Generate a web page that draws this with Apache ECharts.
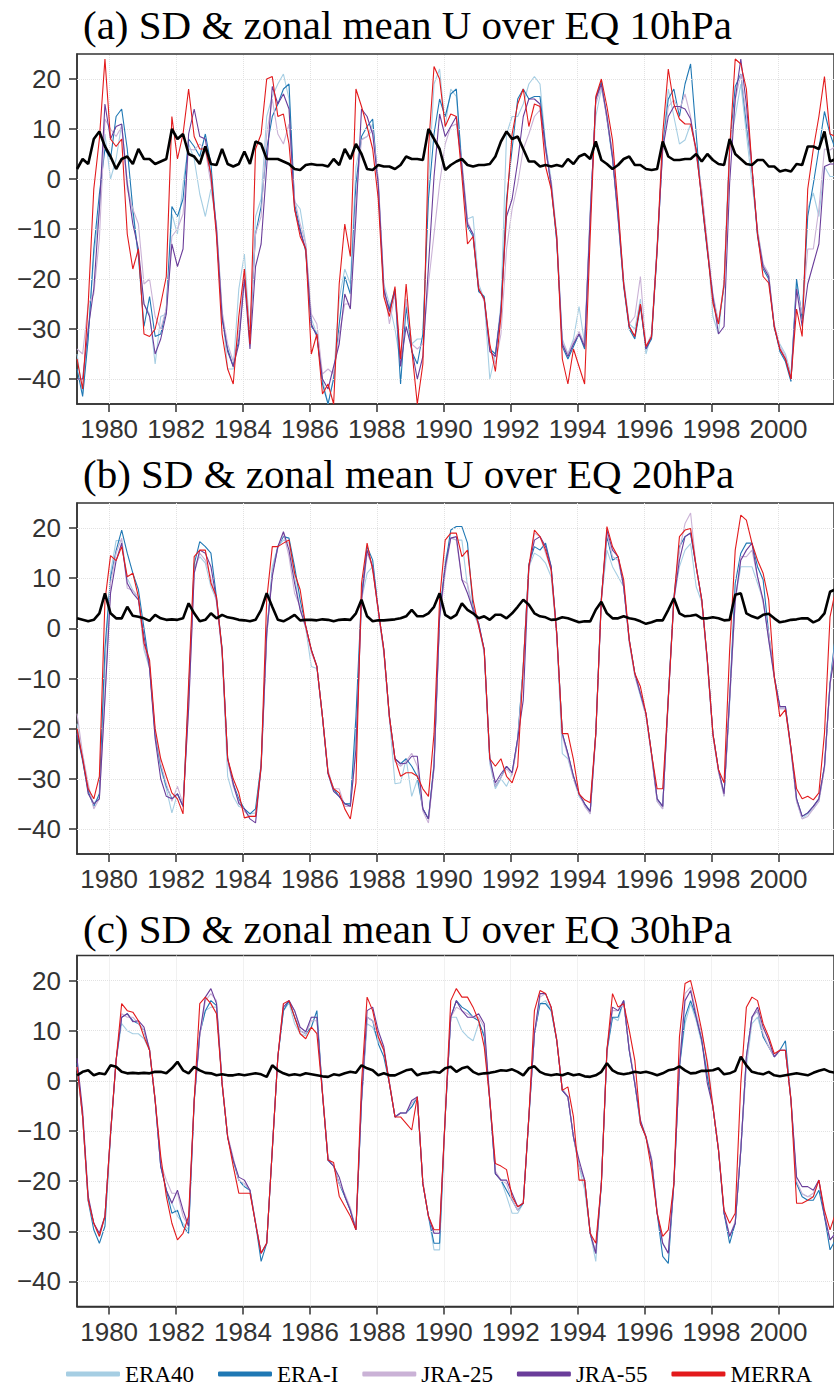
<!DOCTYPE html>
<html>
<head>
<meta charset="utf-8">
<script src="https://cdn.jsdelivr.net/npm/echarts@6/dist/echarts.min.js"></script>
<style>
html,body{margin:0;padding:0;background:#ffffff;}
#chart{width:834px;height:1392px;}
</style>
</head>
<body>
<div id="chart"></div>
<script>
// ---- categories / ticks ----
const yearStart = 1979 + 0.5 / 12;   // mid-January 1979
const stepYears = 2 / 12;            // one sample every two months
const xTicks = [1980, 1982, 1984, 1986, 1988, 1990, 1992, 1994, 1996, 1998, 2000];
const yTicks = [-40, -30, -20, -10, 0, 10, 20];
const seriesNames = ['ERA40', 'ERA-I', 'JRA-25', 'JRA-55', 'MERRA'];
const seriesColors = ['#a6cee3', '#1f78b4', '#cab2d6', '#6a3d9a', '#e31a1c'];
const panelTitles = [
  '(a) SD & zonal mean U over EQ 10hPa',
  '(b) SD & zonal mean U over EQ 20hPa',
  '(c) SD & zonal mean U over EQ 30hPa'
];

// ---- 10 hPa ----
const era40_10 = [-35,-43,-31,-15.5,-6,9,0,4,11,-0.5, -7,-15.5,-25,-27,-37,-27.5,-27,-7,-11,-1, 7,4,-3,-7.5,-2,-9,-26,-38,-38,-22, -15,-31,-7.5,-4,12.5,16.5,19,21,16,-4.5, -6,-13,-28,-31,-40,-45,-39.5,-24,-18,-21, 2.5,8,8.5,11,-0.5,-21,-25,-30,-37,-24, -33,-32,-32,-1,19,22,10.5,18,16.5,3.5, -8,-7.5,-21,-24,-40,-35,-25,9,12.5,12.5, 15,19,20.5,19,7,0,-11,-32,-35,-32, -25.5,-33,-6,12.5,18,13,5,-6.5,-20,-29, -30,-24,-35,-31,-13,7,18,12.5,7,7.8, 11,5.8,-3,-13,-27.5,-31,-20,7,12.5,19, 9,-0.8,-10,-17,-19,-30,-33,-35,-39,-21, -27,-6,-2.8,-7.5,2.5,0.5,0.5];
const erai_10 = [-38,-43.5,-32,-14,-3,6,4,12.5,14,6, -6,-15.5,-29.5,-23.5,-31.5,-31,-26,-5.5,-7.5,-4, 8,6.5,4.5,9,3,-10.5,-28,-34,-37.5,-32, -19.5,-31,-11,-5.5,6,12.5,15,18,19,-5, -10,-14.5,-29.5,-31,-41,-45,-40,-29,-19.5,-23, -1,8.5,10.5,12,-1.5,-22.5,-26,-22,-41,-25.5, -34.5,-37,-31,-4,9,16,12.5,17,18,2, -9.5,-11.5,-22.5,-23.5,-34,-35,-26.5,-4,6,16, 18,16,16.5,16.5,6.5,-1.5,-12.5,-33.5,-36,-33.5, -31,-34,-8,16,19.5,12,4,-8,-21.5,-30, -32,-25.5,-34,-32,-14.5,6.5,16,18,12.5,19, 23,9,-4.5,-14.5,-23.5,-29,-21.5,6,18.5,21, 11,2,-11.5,-18,-20,-29.5,-34.5,-36.5,-40.5,-20, -28,-7.5,-1,6,13.5,9,5.8];
const jra25_10 = [-34,-35,-25,-23,-12,12,10,8.5,10.5,-2, -6,-9,-21,-20,-27.5,-30,-26,-11.5,-10,-7, 6,5.8,7,5.8,-1,-9.5,-26.5,-33,-36.5,-31, -19,-30,-11,-7.5,9,16,9,7,11,-4, -9,-13,-27,-29,-39,-38,-39,-31,-25,-25, -4,7.8,8.5,9.8,0,-21,-29,-23,-36.5,-24, -33,-34,-33,-21,-11,-1,7,10.5,11,3, -8.5,-11,-21.5,-24.5,-33.5,-37,-31,-14,-6,-1, 6,9,12.5,13.8,5.5,-0.5,-11.5,-32.5,-35,-32.5, -30.5,-33,-7,15,18.5,12,5,-7,-20.5,-29, -27.5,-19.5,-33.5,-31,-13.5,5.5,14.5,15.8,13.8,17, 12.5,4.5,-2,-12.8,-23,-28.5,-21,5.5,15.8,21, 12.5,2,-10.5,-17,-19,-29,-33.5,-35.5,-39.5,-22, -27,-14,-14,-6,6,5.8,6.5];
const jra55_10 = [-40,-40,-30,-22,-6,15,8,10.5,11,-1, -9,-14,-25,-27.5,-35,-32,-27,-13,-17.5,-14, 9,14,8.5,8,0.5,-10,-27.5,-34.5,-37.5,-33, -20,-34,-17.5,-13,2.5,18.5,15,17,14,-6, -10.5,-14,-29,-31.5,-40,-42,-37.5,-33,-23,-26, -7.5,14,12.5,9,-1,-22,-26.5,-22.5,-37.5,-29.5, -34,-40,-35.5,-17.5,0.5,13,8.5,10.5,12.5,2.5, -9,-11,-22,-24,-34.5,-35.5,-26,-7.5,-4,3.5, 12.5,16,16,15,6,-1,-12,-33,-35.5,-33, -31,-33.5,-7.5,16,19,12.5,4.5,-7.5,-21,-29.5, -31.5,-25,-34,-31.5,-14,6,12.5,14.5,14.5,14, 12,5.8,-4,-14,-23.5,-31,-29.5,-0.8,16,24, 15,2.5,-11,-17.5,-19.5,-29.5,-34,-36,-40,-22, -29.5,-21,-17,-13,2.5,3,3];
const merra_10 = [-36,-42,-25,-2,8,24,8,6.5,8,-11, -18,-14,-31,-31.5,-30,-25,-19.5,12.5,4,9, 18,8.5,6,6,1,-11.5,-31,-38,-41,-27.5, -18,-33,6,9,20,20.5,12.5,13,7,-6, -11.5,-14,-35,-31,-43,-41,-45,-21,-9,-15.5, 18,14.5,10.5,6,-4,-23.5,-27.5,-21.5,-36,-21, -34,-45,-37,6,22.5,20,10.5,13,12.5,0.5, -13,-11.5,-22,-24,-33,-38.5,-27.5,-5.5,9,15, 18,10.5,15,14.5,2.5,-2,-11.5,-36,-41,-34, -37.5,-41,-11.5,16.5,20,14.5,7.8,-5.5,-21,-29.5, -31.5,-25,-33.5,-31.5,-14,9,22,15,12,11, 11,5.8,-4,-14,-24.8,-29,-21,6,24,23, 18,2.5,-11,-19.5,-20.8,-29.5,-34,-36,-40,-26, -31.5,-2,6,12.5,20.5,9,8.5];
const sd_10 = [2,4,3,8,9.5,6.5,4.5,2,4,4.5, 3,6,4,4,3,3.5,4,10,8,9, 5,4.5,3,6.5,3,2.8,6,3,2.5,3, 5.5,3,7.5,7,4,4,4,3.5,3,2, 1.8,2.8,3,2.8,2.8,2.5,4,2.8,6,4, 7,5,2,1.8,2.8,2.5,2.5,2,2.8,4.5, 4,4,3.8,10,8,6,1.8,2.8,3.5,4, 2.8,2.5,2.8,2.8,3,4.5,7.5,9.5,8,8.5, 6,3.5,3.5,2.5,2.8,2.5,2.8,2.5,4,3, 4.5,5,4,7.5,3.8,3,2,2.8,4,4.5, 2.8,2.8,2,1.8,2,7.5,4.5,3.8,3.8,4, 4,5,3.5,5,3.8,3,2.8,8,5,4, 3,2.8,3.8,3.8,2.5,2.5,1.5,1.8,1.5,3, 2.8,6.5,6.5,6,9.5,3.5,4];

// ---- 20 hPa ----
const era40_20 = [-19,-26,-32,-35,-33.5,-7.5,11,17.5,17.5,10, 7.6,5.7,-4.3,-8,-21.5,-28,-32,-36.8,-33,-35.5, -14,12.3,14.3,13,8.3,5.7,-5,-29.5,-33.5,-35.5, -36,-37,-36.8,-28,-2,12.3,16.3,17.6,17,10.3, 3.7,0,-7.6,-8,-18,-29,-32.5,-33.5,-35,-35, -21,5.7,11,12.3,3.2,-5,-18,-31,-30.8,-26, -33.5,-30.2,-36,-38,-28,2.3,13.6,18,17.6,17.6, 8.3,3.2,0.5,-5,-27,-32,-30,-31.5,-29,-22.5, -7,12.3,15,14.3,13,10.3,-1.5,-25,-26,-30, -33.5,-35,-37,-21,5.7,15.6,12.3,10.3,8.3,-2.8, -9.5,-13.5,-17.5,-25.5,-34.5,-36,-13,5.7,12.3,15.6, 16.9,8.3,5.2,-7,-21.5,-28.6,-33.5,-15,5.7,12.3, 12.3,12.3,9,5.7,-2.3,-10,-16,-16,-24.5,-34.5, -38,-37,-36,-34.5,-28,-11,-1];
const erai_20 = [-21,-26.5,-32.5,-35.5,-33,-4,10,15.5,19.6,15, 11,7.7,0,-7.6,-21,-27.5,-31.5,-34,-33,-35.5, -13,12.8,17.3,16.3,15,6.2,-4,-26,-31,-34, -36,-37,-36,-27,-0.5,11,16.3,18.3,18,12.3, 5.7,0.4,-4.3,-7.6,-17.6,-28.8,-32,-33.5,-35,-35, -17.6,6.5,16.3,13.6,3.7,-4.3,-17.6,-26,-27,-26, -27.5,-29.5,-36,-38,-27,2.8,12.3,19.6,20.3,20.3, 17,4.2,1,-4.3,-26,-31.5,-29.7,-27.5,-28.8,-22, -7.6,12.8,16.3,15.6,17,12.3,-1,-21,-25,-29.5, -33,-35,-36.5,-21,6.2,18.3,13.6,14.3,8.3,-2.3, -9,-13,-17,-25,-34,-35.5,-14,6.2,16.3,18.3, 19,12.3,5.7,-6.3,-21,-28.2,-33,-14,9,15, 17,17,12.3,9.7,-1,-9.6,-15.6,-15.6,-24,-34, -37.5,-36.8,-35.5,-34,-27.5,-11,-1];
const jra25_20 = [-17,-25,-31,-36,-34,-14,9,15,18,8, 7.6,6.3,-3.6,-7.6,-20.5,-27,-31,-34.5,-31.5,-35, -16,11,15,13.6,10,5.2,-4.8,-26.5,-31.5,-34.5, -36.5,-37.5,-37.5,-28,-1.5,11,16,19,14.3,7, 4.3,0,-4.8,-7.6,-17.6,-28.3,-32,-32,-35.5,-35.5, -24.2,5.2,15,12.3,3.2,-4.8,-18,-26.5,-27.5,-26.5, -24.9,-27.5,-36.5,-38.8,-28,1.8,11,18,17.6,9.7, 8.9,3.7,1,-4.8,-26.5,-31.5,-29.7,-28,-29.3,-22.5, -8.5,11.5,19,18.3,15,11.6,-1.5,-21.5,-25.5,-30, -33,-35.5,-37,-21.5,5.2,19,14.3,13.6,8.3,-2.8, -9.5,-13,-17.5,-25.5,-34.5,-36,-14.5,5.2,15.6,20.9, 23,12.3,5.2,-6.8,-21.5,-28.6,-33.5,-14.5,5.2,14.3, 14.3,15.6,10.3,5,-1,-10,-16,-16,-24.5,-34.5, -38,-37.5,-36,-34.5,-28,-11.5,-2.3];
const jra55_20 = [-21,-26,-33,-35,-34,-14,7,13.5,17,9, 7,5.7,-1.6,-8,-22,-30,-33.5,-34,-33,-35.5, -16,11,15.6,15,12.3,5.7,-4.3,-26,-31,-34.9, -36,-38,-38.8,-27.5,-1,10.3,16.3,19.3,15.6,9, 3.7,0.4,-4.3,-7.6,-17.6,-29,-32.5,-33.5,-35,-35.5, -24.2,5.7,15.6,12.3,3.7,-4.3,-17.6,-26,-27,-26.9, -25.5,-25.5,-36,-38,-27.5,2.3,12.3,18,18.3,9.7, 7,3.7,1,-4.3,-26,-30.8,-29,-27.5,-28.8,-22, -14.3,12.3,17.6,18.3,16.3,12.3,-1,-21,-25,-29.5, -33,-35,-36.5,-21,5.7,19.6,15.6,14.3,8.3,-2.3, -9,-13,-17,-25,-34,-35.5,-14,5.7,13.6,18.3, 19,12.3,5.7,-6.3,-21,-28.2,-33,-14,5.7,13.6, 15.6,17,10.3,5.7,-2.3,-9.6,-15.6,-15.6,-24,-34, -37.5,-36.8,-35.5,-34,-27.5,-11,-4.3];
const merra_20 = [-20,-26,-32,-34,-29.5,5.5,14.5,13.5,16.3,10.3, 11,6.3,-3,-6.3,-20,-26,-29.5,-32.8,-34,-37, -11,14.3,15.6,15.6,9,6.3,-4.3,-26,-30,-32.8, -37.8,-37.5,-37.5,-27.5,5.7,16.3,16.3,17,17.6,11, 7.7,0.4,-4.3,-7.6,-17.6,-28.8,-32,-32.8,-36,-38, -30.8,9,17,11.6,3.7,-4.3,-17.6,-26,-29.5,-28.8, -28.8,-29.5,-32,-33.5,-21,5.7,17.6,19,19,14.3, 15.6,5.7,0.4,-4.3,-26,-27.5,-26,-29.5,-30.8,-27.5, -7.6,12.3,19.6,18.3,15.6,11.6,-1,-21,-21,-26.2, -33,-34.2,-34.8,-21,5.7,20.3,16.3,14.3,9.7,-2.3, -9,-11.6,-17,-25,-32,-32,-14,5.7,18.3,19.6, 19.9,12.3,5.7,-6.3,-21,-28.2,-30.8,-4.3,15.6,22.6, 21.6,17,13.6,11,5.7,-9.6,-17.6,-16.2,-24,-32, -34,-33.5,-34.2,-32.8,-21,2.3,7.7];
const sd_20 = [2.0,1.7,1.4,1.7,3.0,7.0,3.0,2.0,2.0,4.3, 2.5,2.3,2.0,1.5,2.7,2.0,1.7,1.8,1.7,2.0, 5.0,3.0,1.4,1.7,3.0,2.0,2.7,2.2,2.0,1.7, 1.6,1.4,1.7,3.7,7.0,4.3,1.7,1.4,2.0,2.7, 1.6,1.7,1.7,1.6,1.8,1.7,1.4,1.7,1.8,1.7, 3.0,5.7,2.4,1.4,1.6,1.6,1.7,1.8,2.0,2.4, 3.7,2.4,2.4,3.0,4.3,7.0,2.7,2.0,2.7,5.0, 3.7,3.0,2.0,2.4,1.7,2.7,2.7,2.0,3.0,4.3, 5.7,4.7,3.0,2.4,2.2,1.7,1.8,2.2,2.0,1.6, 1.2,1.4,1.4,3.7,5.3,3.0,2.0,2.0,2.4,2.0, 1.8,1.4,0.9,1.2,1.6,1.6,3.7,6.0,3.0,2.4, 2.5,2.7,2.0,2.0,2.2,2.0,1.6,1.7,6.7,7.0, 3.0,2.4,2.0,2.7,2.9,2.0,1.2,1.4,1.7,1.8, 2.0,2.0,1.2,1.7,3.0,7.3,7.8];

// ---- 30 hPa ----
const era40_30 = [2.8,-7.2,-23.8,-28.4,-31,-27,-10.5,4.1,11.4,10, 9.4,9.4,8.4,6.1,-3.9,-17,-21.8,-24.4,-27,-28.4, -29.7,-4.5,9.4,14,14.7,14.7,-0.5,-11.2,-15.8,-19.8, -21.1,-21.8,-28.4,-34.4,-32.4,-13.8,4.8,14,15.5,11.4, 9.4,9,12.7,12.7,-2.5,-15.8,-17,-20.5,-23,-25.8, -29.7,-4.5,11.4,10.7,8.1,6.1,-0.5,-7.2,-6.4,-6.4, -5.2,-3.2,-20.5,-27,-33.7,-33.7,-7.2,12.7,12.7,10, 8.8,8,11.4,9.4,-3.9,-18.5,-19.8,-23,-26.4,-26.4, -24.4,-7.8,9.4,15.4,16,14,8.1,-1.9,-3.2,-11.2, -17,-21.8,-30.4,-36,-20.5,5.5,12.7,12,16,6.1, -0.5,-8.5,-11.2,-15.8,-26.4,-32.4,-34.4,-20.5,2.8,11.4, 15.4,12,7.4,2.1,-5.2,-13.8,-26.4,-31,-28.4,-13.8, 2.8,11.4,12.7,8.8,6.8,4.8,6.1,6.1,-3.9,-20.5, -22.5,-23.1,-23.1,-19.8,-27,-31.7,-30.4];
const erai_30 = [3.5,-7.2,-24,-29.7,-32.4,-29,-11,4.1,12.7,13.4, 12,11.4,10,6.1,-3.9,-17,-21.8,-26.4,-25.8,-29, -30.4,-3.9,9.4,14,16,15,-0.5,-11.2,-15.8,-19.8, -21.1,-21.8,-28.4,-36,-32.4,-13.8,4.8,14,16,12.7, 10,9.4,10.7,14,-2.5,-15.8,-17,-20.5,-23,-25.8, -29.7,-3.9,12.7,12,7.4,4.8,-0.5,-7.2,-6.4,-6.4, -5.2,-3.2,-20.5,-27,-32.4,-32.4,-7.2,12.7,16,14.7, 14,12.7,12,8.8,-3.9,-18.5,-19.8,-21.8,-23.8,-25.8, -24.4,-7.2,9.4,15.4,15.4,14,8.1,-1.9,-3.2,-11.2, -17,-19.8,-30.4,-34.4,-20.5,6.1,12.7,12.7,16,6.1, -0.5,-8.5,-11.2,-15.8,-26.4,-35,-36.4,-20.5,2.8,12.7, 16,12.7,8.1,0.8,-5.2,-13.8,-26.4,-32.4,-28.4,-13.8, 4.8,12.7,14,8.8,6.8,4.8,6.1,8,-3.9,-20.5, -23.1,-23.8,-23.8,-21.8,-27,-33.7,-31.7];
const jra25_30 = [2.8,-7.2,-23.8,-28.4,-31,-27,-10.5,4.1,13.4,12.7, 12.7,11.4,10,6.5,-3.5,-16.5,-19.8,-22.4,-22.4,-27, -29,-3.9,8.8,16,17.4,16,0,-10.8,-15.3,-19.8, -20.5,-21.8,-28,-34.4,-32.4,-13.3,4.8,15.4,16,14, 10,9.4,12,12,-2,-15.3,-17,-20.5,-22.5,-25.3, -29.7,-3.5,12.7,12,8.8,6.1,0,-7.2,-6.4,-6.4, -4.5,-3.2,-20,-27,-30.4,-30.4,-6.8,12.7,14.7,14, 13.4,12.7,12.7,10.7,-3.5,-18,-19.8,-20.5,-23.8,-25.8, -24,-7,9.4,16.7,17.4,14.4,8.5,-1.5,-3.2,-11.2, -17,-19.8,-30,-34.4,-20,6.5,14,14,15.4,6.5, 0,-8.2,-11,-15.3,-26,-32.4,-34.4,-20,3.2,17.4, 18.7,13.4,9.4,4.1,-4.8,-13.3,-26,-31,-28,-13.3, 4.1,12.7,14,9.4,6.8,4.8,6.1,6.1,-3.5,-20, -22.5,-23.1,-22.4,-19.8,-26.5,-31.7,-30.4];
const jra55_30 = [4.5,-6,-23,-28.4,-30.4,-27,-10.5,4.1,12.7,13.4, 11.8,12,10.7,6.1,-3.9,-17,-21.8,-24.4,-21.8,-25.8, -29,-3.9,9.4,16.7,18.4,15.4,-0.5,-11.2,-15.8,-19.2, -19.8,-21.8,-28.4,-34.4,-32.4,-13.8,4.8,14.7,16,14, 10.7,9.8,12.7,12.7,-2.5,-15.8,-17,-19.2,-23,-25.8, -29.7,-3.9,14,14.7,10,6.8,-0.5,-7.2,-6.4,-6.4, -3.9,-3.2,-20.5,-27,-30.4,-30.4,-7.2,12.7,16,14, 12.7,12.7,13.4,11.4,-3.9,-18.5,-19.8,-19.8,-22.4,-25.1, -24.4,-7.2,9.4,17.4,17.4,14.7,8.1,-1.9,-3.2,-11.2, -15.8,-19.8,-30.4,-34.4,-20.5,6.1,14.7,14,16,6.1, -0.5,-7.8,-11.2,-15.8,-26.4,-32.4,-34.4,-20.5,2.8,16, 18,12.7,8.1,-0.5,-5.2,-13.8,-26.4,-31,-28.4,-13.8, 4.8,12.7,14.7,10.7,8.1,4.8,6.1,6.1,-3.9,-19.2, -21.1,-21.1,-21.8,-19.8,-27,-31.7,-30.4];
const merra_30 = [2.8,-7.2,-23.8,-28.4,-31,-27,-10.5,4.1,15.4,14, 13.7,12,8.8,6.1,-3.9,-15,-23,-28.4,-31.7,-30.4, -27,-3.9,15.4,16.7,15.4,13.4,-0.5,-11.2,-17,-22.4, -22.4,-22.4,-28.4,-34.4,-32.4,-13.8,4.8,15.4,16,12.7, 9.4,8.4,10.7,9.4,-2.5,-15.8,-16.3,-23,-25,-27, -29.7,-0.5,16.7,14,8.8,6.1,-0.5,-7.2,-7.2,-8.5, -9.8,-3.2,-20.5,-27,-29.7,-29.7,-7.2,16,18.4,16.7, 16.7,14.7,12,6.8,-3.9,-16.5,-17,-17.7,-23.1,-25.1, -24.4,-7.2,14,18,17.4,14.7,8.1,-1.9,-1.2,-7.2, -19.8,-19.8,-30.4,-32.4,-20.5,6.1,17.4,14.7,15.4,10.1, 4.1,-8.5,-11.2,-17.7,-26.4,-31,-29.7,-20.5,8.8,19.4, 20,15.4,10,3.5,-5.2,-13.8,-25.8,-28.4,-26.4,-0.5, 14.7,16.7,16,11.4,8.8,5.4,6.1,6.1,-3.9,-24.4, -24.4,-23.8,-23.1,-19.8,-25.8,-29.7,-26.4];
const sd_30 = [1.1,1.8,2.1,1.1,1.5,1.3,3.1,2.8,1.8,1.5, 1.6,1.5,1.6,1.5,1.8,1.8,1.5,2.5,3.8,2.1, 1.5,2.8,2.1,1.6,1.5,1.1,1.3,1.1,1.1,1.3, 1.1,1.3,1.5,1.3,0.8,3.1,2.1,1.5,1.1,1.3, 1.1,1.5,1.3,1.1,0.9,0.8,1.3,1.1,1.5,1.8, 1.6,3.1,2.5,2.1,1.1,1.5,1.1,1.1,1.6,2.1, 2.3,1.1,1.5,1.6,1.8,1.6,2.5,2.8,1.8,2.5, 2.8,1.8,1.3,1.5,1.6,1.8,2.1,2.0,2.3,1.8, 1.1,2.5,2.9,1.8,1.3,1.1,1.3,1.1,1.5,1.1, 1.3,0.9,0.8,1.1,1.8,3.5,2.1,1.5,1.3,1.5, 1.8,1.6,1.8,1.5,1.1,1.5,2.1,2.3,2.9,2.1, 1.5,1.6,2.0,2.0,2.1,2.5,1.3,1.5,2.0,4.8, 3.1,1.8,1.5,1.3,1.8,1.1,0.9,1.1,1.3,1.5, 1.3,1.1,1.6,2.0,2.3,1.8,1.6];

// ---- assembly ----
const panels = [
  { lines: [era40_10, erai_10, jra25_10, jra55_10, merra_10], sd: sd_10 },
  { lines: [era40_20, erai_20, jra25_20, jra55_20, merra_20], sd: sd_20 },
  { lines: [era40_30, erai_30, jra25_30, jra55_30, merra_30], sd: sd_30 }
];
const gridTops = [54, 503, 955.5];
const gridHeights = [350, 351, 351];
const titleTops = [3, 452, 907];

function toPairs(arr) { return arr.map((v, i) => [yearStart + i * stepYears, v]); }
const minus = v => String(v).replace('-', '\u2212');

const grids = [], xAxes = [], yAxes = [], series = [], titles = [];
panels.forEach((p, pi) => {
  grids.push({ left: 77, right: 0, top: gridTops[pi], height: gridHeights[pi], show: true,
    borderColor: '#333', borderWidth: 1.5, backgroundColor: 'transparent', containLabel: false });
  titles.push({ text: panelTitles[pi], left: 83, top: titleTops[pi], padding: 0,
    textStyle: { fontFamily: 'Liberation Serif', fontSize: 41, lineHeight: 44, fontWeight: 'normal', color: '#000' } });
  xAxes.push({ gridIndex: pi, type: 'value', min: 1979.04, max: 2001.66,
    axisLine: { show: true, onZero: false, lineStyle: { color: '#333', width: 1.5 } },
    axisTick: { show: true, customValues: xTicks, length: 8, lineStyle: { color: '#333', width: 1.5 } },
    axisLabel: { customValues: xTicks, formatter: v => String(Math.round(v)), margin: 12,
      fontFamily: 'Liberation Sans', fontSize: 26, color: '#333' },
    splitLine: { show: false } });
  yAxes.push({ gridIndex: pi, type: 'value', min: -45, max: 25,
    axisLine: { show: true, onZero: false, lineStyle: { color: '#333', width: 1.5 } },
    axisTick: { show: true, customValues: yTicks, length: 8, lineStyle: { color: '#333', width: 1.5 } },
    axisLabel: { customValues: yTicks, formatter: minus, margin: 16,
      fontFamily: 'Liberation Sans', fontSize: 26, color: '#333' },
    splitLine: { show: false } });
  p.lines.forEach((arr, si) => {
    const s = { type: 'line', name: seriesNames[si], xAxisIndex: pi, yAxisIndex: pi,
      data: toPairs(arr), symbol: 'none', showSymbol: false, silent: true,
      color: seriesColors[si], itemStyle: { color: seriesColors[si] },
      lineStyle: { width: 1.1, color: seriesColors[si] }, z: 2 + si };
    if (si === 0) {
      s.markLine = { silent: true, symbol: 'none', label: { show: false },
        lineStyle: { color: '#e2e2e2', type: 'dotted', width: 1 },
        data: yTicks.map(v => ({ yAxis: v })).concat(xTicks.map(v => ({ xAxis: v }))) };
    }
    series.push(s);
  });
  series.push({ type: 'line', name: 'SD', xAxisIndex: pi, yAxisIndex: pi, data: toPairs(p.sd),
    symbol: 'none', showSymbol: false, silent: true, color: '#000',
    lineStyle: { width: 2.6, color: '#000' }, z: 10 });
});

const chart = echarts.init(document.getElementById('chart'), null, { renderer: 'svg' });
chart.setOption({
  animation: false,
  backgroundColor: '#ffffff',
  title: titles,
  grid: grids,
  xAxis: xAxes,
  yAxis: yAxes,
  legend: { data: seriesNames, left: 66, top: 1362, icon: 'roundRect', itemWidth: 54, itemHeight: 5,
    itemGap: 24, padding: 0, textStyle: { fontFamily: 'Liberation Serif', fontSize: 23, color: '#000',
    lineHeight: 24 } },
  series: series
});
</script>
</body>
</html>
